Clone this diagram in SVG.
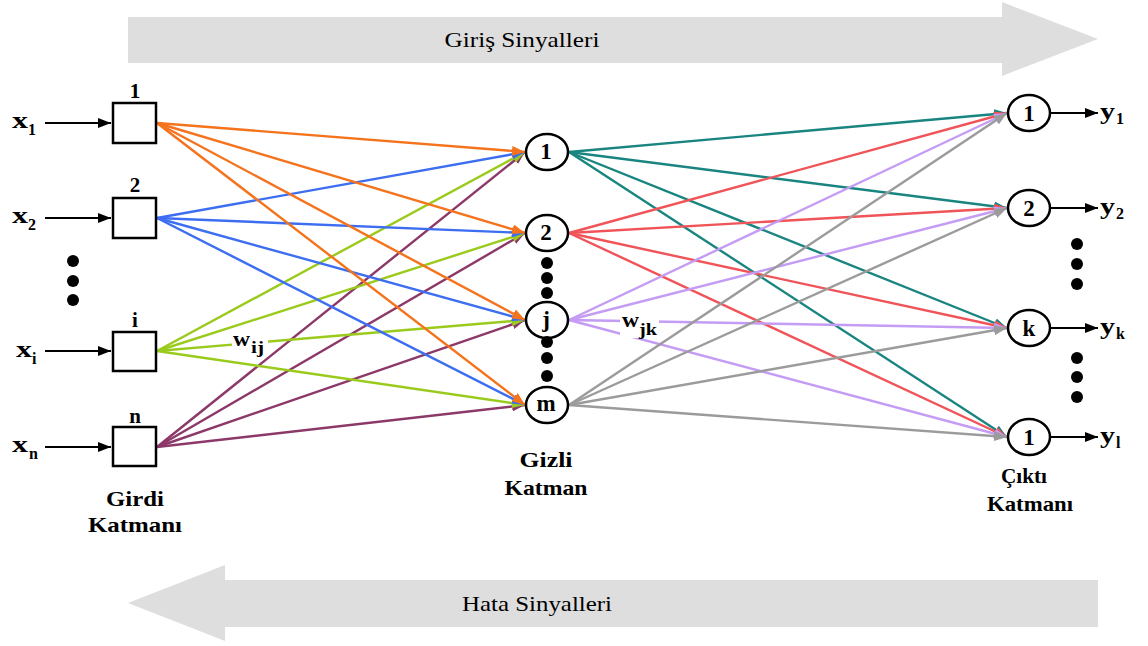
<svg xmlns="http://www.w3.org/2000/svg" width="1148" height="646" viewBox="0 0 1148 646">
<style>
.big{fill:#dedede}
text{font-family:'Liberation Serif','Times New Roman','DejaVu Serif',serif}
.sig{font-size:22px;fill:#000}
.b{font-weight:bold;fill:#000}
.lbl{font-size:21px;text-anchor:middle}
.nl{font-size:23px;text-anchor:middle}
.sub{font-size:16px}
.box{fill:#fff;stroke:#000;stroke-width:2.5}
.nd{fill:#fff;stroke:#000;stroke-width:2.5}
.dot{fill:#000}
.e{fill:none;stroke-width:2.4}
.blk{stroke:#000;stroke-width:2.2;fill:none}
</style>
<defs>
<marker id="mk" markerUnits="userSpaceOnUse" markerWidth="13" markerHeight="10" viewBox="0 0 13 10" refX="13" refY="5" orient="auto"><path d="M0,0 L13,5 L0,10 z" fill="#000"/></marker>
<marker id="mo" markerUnits="userSpaceOnUse" markerWidth="13" markerHeight="10" viewBox="0 0 13 10" refX="13" refY="5" orient="auto"><path d="M0,0 L13,5 L0,10 z" fill="#f4731c"/></marker>
<marker id="mb" markerUnits="userSpaceOnUse" markerWidth="13" markerHeight="10" viewBox="0 0 13 10" refX="13" refY="5" orient="auto"><path d="M0,0 L13,5 L0,10 z" fill="#3d6ef2"/></marker>
<marker id="mg" markerUnits="userSpaceOnUse" markerWidth="13" markerHeight="10" viewBox="0 0 13 10" refX="13" refY="5" orient="auto"><path d="M0,0 L13,5 L0,10 z" fill="#9acb1c"/></marker>
<marker id="mp" markerUnits="userSpaceOnUse" markerWidth="13" markerHeight="10" viewBox="0 0 13 10" refX="13" refY="5" orient="auto"><path d="M0,0 L13,5 L0,10 z" fill="#8c3868"/></marker>
<marker id="mt" markerUnits="userSpaceOnUse" markerWidth="13" markerHeight="10" viewBox="0 0 13 10" refX="13" refY="5" orient="auto"><path d="M0,0 L13,5 L0,10 z" fill="#1a8580"/></marker>
<marker id="mr" markerUnits="userSpaceOnUse" markerWidth="13" markerHeight="10" viewBox="0 0 13 10" refX="13" refY="5" orient="auto"><path d="M0,0 L13,5 L0,10 z" fill="#f05459"/></marker>
<marker id="ml" markerUnits="userSpaceOnUse" markerWidth="13" markerHeight="10" viewBox="0 0 13 10" refX="13" refY="5" orient="auto"><path d="M0,0 L13,5 L0,10 z" fill="#c49cf4"/></marker>
<marker id="my" markerUnits="userSpaceOnUse" markerWidth="13" markerHeight="10" viewBox="0 0 13 10" refX="13" refY="5" orient="auto"><path d="M0,0 L13,5 L0,10 z" fill="#9b9b9b"/></marker>
</defs>

<g id="signal-forward">
<path class="big" d="M128,17 L1002,17 L1002,2 L1098,39 L1002,76 L1002,63 L128,63 z"/>
<text class="sig" x="522" y="47" text-anchor="middle" textLength="155" lengthAdjust="spacingAndGlyphs">Giriş Sinyalleri</text>
</g>
<g id="signal-error">
<path class="big" d="M1098,580 L225,580 L225,565 L128,603 L225,641 L225,627 L1098,627 z"/>
<text class="sig" x="537" y="611" text-anchor="middle" textLength="150" lengthAdjust="spacingAndGlyphs">Hata Sinyalleri</text>
</g>

<g id="connectors">
<g id="input-arrows">
<line class="blk" x1="45" y1="123" x2="111" y2="123" marker-end="url(#mk)"/>
<line class="blk" x1="45" y1="218" x2="111" y2="218" marker-end="url(#mk)"/>
<line class="blk" x1="45" y1="351" x2="111" y2="351" marker-end="url(#mk)"/>
<line class="blk" x1="45" y1="447" x2="111" y2="447" marker-end="url(#mk)"/>
</g>
<g id="edges-n" stroke="#8c3868">
<line class="e" x1="157" y1="447" x2="525" y2="152" marker-end="url(#mp)"/>
<line class="e" x1="157" y1="447" x2="525" y2="233" marker-end="url(#mp)"/>
<line class="e" x1="157" y1="447" x2="525" y2="320" marker-end="url(#mp)"/>
<line class="e" x1="157" y1="447" x2="525" y2="405" marker-end="url(#mp)"/>
</g>
<g id="edges-i" stroke="#9acb1c">
<line class="e" x1="157" y1="351" x2="525" y2="152" marker-end="url(#mg)"/>
<line class="e" x1="157" y1="351" x2="525" y2="233" marker-end="url(#mg)"/>
<line class="e" x1="157" y1="351" x2="525" y2="320" marker-end="url(#mg)"/>
<line class="e" x1="157" y1="351" x2="525" y2="405" marker-end="url(#mg)"/>
</g>
<g id="edges-2" stroke="#3d6ef2">
<line class="e" x1="157" y1="218" x2="525" y2="152" marker-end="url(#mb)"/>
<line class="e" x1="157" y1="218" x2="525" y2="233" marker-end="url(#mb)"/>
<line class="e" x1="157" y1="218" x2="525" y2="320" marker-end="url(#mb)"/>
<line class="e" x1="157" y1="218" x2="525" y2="405" marker-end="url(#mb)"/>
</g>
<g id="edges-1" stroke="#f4731c">
<line class="e" x1="157" y1="123" x2="525" y2="152" marker-end="url(#mo)"/>
<line class="e" x1="157" y1="123" x2="525" y2="233" marker-end="url(#mo)"/>
<line class="e" x1="157" y1="123" x2="525" y2="320" marker-end="url(#mo)"/>
<line class="e" x1="157" y1="123" x2="525" y2="405" marker-end="url(#mo)"/>
</g>
<g id="edges-h1" stroke="#1a8580">
<line class="e" x1="569" y1="152" x2="1007" y2="113" marker-end="url(#mt)"/>
<line class="e" x1="569" y1="152" x2="1007" y2="208" marker-end="url(#mt)"/>
<line class="e" x1="569" y1="152" x2="1007" y2="328" marker-end="url(#mt)"/>
<line class="e" x1="569" y1="152" x2="1007" y2="437" marker-end="url(#mt)"/>
</g>
<g id="edges-h2" stroke="#f05459">
<line class="e" x1="569" y1="233" x2="1007" y2="113" marker-end="url(#mr)"/>
<line class="e" x1="569" y1="233" x2="1007" y2="208" marker-end="url(#mr)"/>
<line class="e" x1="569" y1="233" x2="1007" y2="328" marker-end="url(#mr)"/>
<line class="e" x1="569" y1="233" x2="1007" y2="437" marker-end="url(#mr)"/>
</g>
<g id="edges-hj" stroke="#c49cf4">
<line class="e" x1="569" y1="320" x2="1007" y2="113" marker-end="url(#ml)"/>
<line class="e" x1="569" y1="320" x2="1007" y2="208" marker-end="url(#ml)"/>
<line class="e" x1="569" y1="320" x2="1007" y2="328" marker-end="url(#ml)"/>
<line class="e" x1="569" y1="320" x2="1007" y2="437" marker-end="url(#ml)"/>
</g>
<g id="edges-hm" stroke="#9b9b9b">
<line class="e" x1="569" y1="405" x2="1007" y2="113" marker-end="url(#my)"/>
<line class="e" x1="569" y1="405" x2="1007" y2="208" marker-end="url(#my)"/>
<line class="e" x1="569" y1="405" x2="1007" y2="328" marker-end="url(#my)"/>
<line class="e" x1="569" y1="405" x2="1007" y2="437" marker-end="url(#my)"/>
</g>
<g id="output-arrows">
<line class="blk" x1="1051" y1="113" x2="1098" y2="113" marker-end="url(#mk)"/>
<line class="blk" x1="1051" y1="208" x2="1098" y2="208" marker-end="url(#mk)"/>
<line class="blk" x1="1051" y1="328" x2="1098" y2="328" marker-end="url(#mk)"/>
<line class="blk" x1="1051" y1="437" x2="1098" y2="437" marker-end="url(#mk)"/>
</g>
</g>

<g id="weight-labels">
<rect x="232" y="328" width="36" height="22" fill="#fff"/>
<text class="b" x="233" y="346" font-size="22" textLength="17" lengthAdjust="spacingAndGlyphs">w</text>
<text class="b sub" x="251" y="353" textLength="13" lengthAdjust="spacingAndGlyphs">ij</text>
<rect x="620" y="311" width="39" height="27" fill="#fff"/>
<text class="b" x="622" y="327" font-size="22" textLength="17" lengthAdjust="spacingAndGlyphs">w</text>
<text class="b sub" x="639" y="335" textLength="18" lengthAdjust="spacingAndGlyphs">jk</text>
</g>

<g id="inputs">
<g id="in-1"><text class="b" x="12" y="128" font-size="23" textLength="16" lengthAdjust="spacingAndGlyphs">x</text><text class="b sub" x="28" y="135">1</text><rect class="box" x="113" y="103" width="43" height="40"/><text class="b lbl" x="135" y="98">1</text></g>
<g id="in-2"><text class="b" x="12" y="223" font-size="23" textLength="16" lengthAdjust="spacingAndGlyphs">x</text><text class="b sub" x="28" y="230">2</text><rect class="box" x="113" y="198" width="43" height="40"/><text class="b lbl" x="135" y="192">2</text></g>
<g id="in-i"><text class="b" x="16" y="357" font-size="23" textLength="16" lengthAdjust="spacingAndGlyphs">x</text><text class="b sub" x="32" y="364">i</text><rect class="box" x="113" y="332" width="43" height="39"/><text class="b lbl" x="135" y="327">i</text></g>
<g id="in-n"><text class="b" x="12" y="452" font-size="23" textLength="16" lengthAdjust="spacingAndGlyphs">x</text><text class="b sub" x="29" y="459">n</text><rect class="box" x="113" y="427" width="43" height="39"/><text class="b lbl" x="135" y="423">n</text></g>
<g id="in-dots"><circle class="dot" cx="73" cy="261" r="6"/><circle class="dot" cx="73" cy="281" r="6"/><circle class="dot" cx="73" cy="300" r="6"/></g>
<g id="in-label"><text class="b lbl" x="135" y="506" textLength="58" lengthAdjust="spacingAndGlyphs">Girdi</text><text class="b lbl" x="135" y="532" textLength="94" lengthAdjust="spacingAndGlyphs">Katmanı</text></g>
</g>

<g id="hidden">
<g id="h-1"><ellipse class="nd" cx="547" cy="152" rx="21" ry="18"/><text class="b nl" x="546" y="159">1</text></g>
<g id="h-2"><ellipse class="nd" cx="547" cy="233" rx="21" ry="18"/><text class="b nl" x="546" y="240">2</text></g>
<g id="h-j"><ellipse class="nd" cx="547" cy="320" rx="21" ry="18"/><text class="b nl" x="546" y="327">j</text></g>
<g id="h-m"><ellipse class="nd" cx="547" cy="405" rx="21" ry="18"/><text class="b nl" x="546" y="411">m</text></g>
<g id="h-dots"><circle class="dot" cx="547" cy="263" r="6"/><circle class="dot" cx="547" cy="278" r="6"/><circle class="dot" cx="547" cy="293" r="6"/><circle class="dot" cx="547" cy="342" r="6"/><circle class="dot" cx="547" cy="358" r="6"/><circle class="dot" cx="547" cy="376" r="6"/></g>
<g id="h-label"><text class="b lbl" x="546" y="467" textLength="53" lengthAdjust="spacingAndGlyphs">Gizli</text><text class="b lbl" x="546" y="495" textLength="83" lengthAdjust="spacingAndGlyphs">Katman</text></g>
</g>

<g id="outputs">
<g id="o-1"><ellipse class="nd" cx="1029" cy="113" rx="21" ry="18"/><text class="b nl" x="1029" y="121">1</text><text class="b" x="1100" y="119" font-size="23" textLength="15" lengthAdjust="spacingAndGlyphs">y</text><text class="b sub" x="1116" y="124">1</text></g>
<g id="o-2"><ellipse class="nd" cx="1029" cy="208" rx="21" ry="18"/><text class="b nl" x="1029" y="216">2</text><text class="b" x="1100" y="214" font-size="23" textLength="15" lengthAdjust="spacingAndGlyphs">y</text><text class="b sub" x="1116" y="219">2</text></g>
<g id="o-k"><ellipse class="nd" cx="1029" cy="328" rx="21" ry="18"/><text class="b nl" x="1029" y="336">k</text><text class="b" x="1100" y="334" font-size="23" textLength="15" lengthAdjust="spacingAndGlyphs">y</text><text class="b sub" x="1116" y="339">k</text></g>
<g id="o-l"><ellipse class="nd" cx="1029" cy="437" rx="21" ry="18"/><text class="b nl" x="1029" y="445">1</text><text class="b" x="1100" y="443" font-size="23" textLength="15" lengthAdjust="spacingAndGlyphs">y</text><text class="b sub" x="1116" y="448">l</text></g>
<g id="o-dots"><circle class="dot" cx="1077" cy="244" r="6"/><circle class="dot" cx="1077" cy="264" r="6"/><circle class="dot" cx="1077" cy="284" r="6"/><circle class="dot" cx="1077" cy="358" r="6"/><circle class="dot" cx="1077" cy="377" r="6"/><circle class="dot" cx="1077" cy="397" r="6"/></g>
<g id="o-label"><text class="b lbl" x="1024" y="483" textLength="46" lengthAdjust="spacingAndGlyphs">Çıktı</text><text class="b lbl" x="1030" y="511" textLength="86" lengthAdjust="spacingAndGlyphs">Katmanı</text></g>
</g>
</svg>
